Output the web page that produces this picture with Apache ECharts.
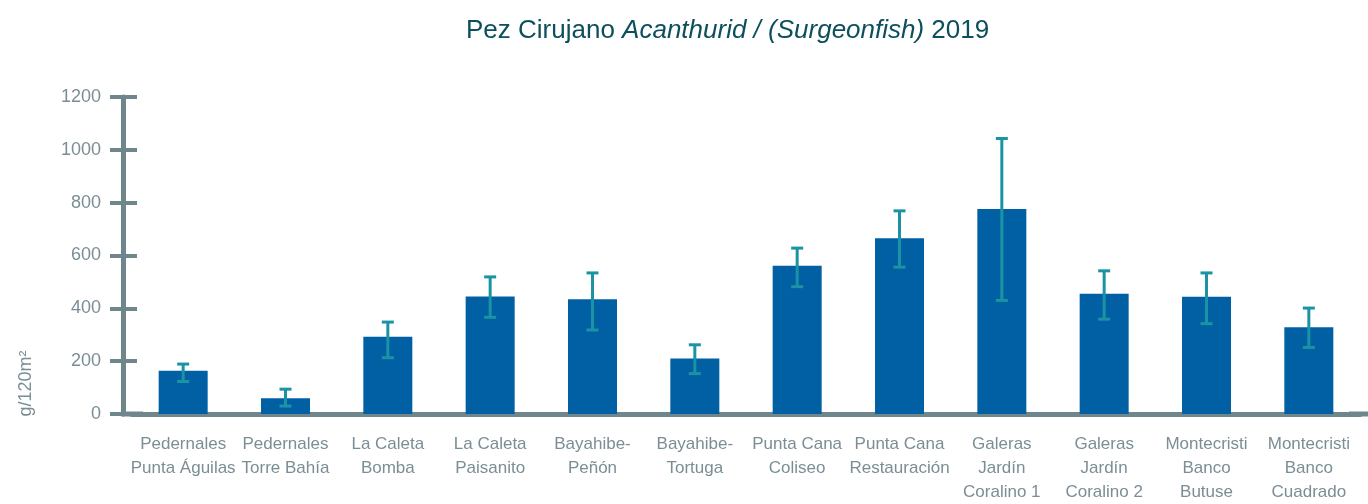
<!DOCTYPE html>
<html>
<head>
<meta charset="utf-8">
<script src="https://cdn.jsdelivr.net/npm/echarts@6/dist/echarts.min.js"></script>
<style>
  html, body { margin: 0; padding: 0; background: #fff; }
  #main { width: 1368px; height: 504px; }
</style>
</head>
<body>
<div id="main"></div>
<script>
// datos
var sitios = [
  'Pedernales\nPunta Águilas', 'Pedernales\nTorre Bahía', 'La Caleta\nBomba', 'La Caleta\nPaisanito',
  'Bayahibe-\nPeñón', 'Bayahibe-\nTortuga', 'Punta Cana\nColiseo', 'Punta Cana\nRestauración',
  'Galeras\nJardín\nCoralino 1', 'Galeras\nJardín\nCoralino 2', 'Montecristi\nBanco\nButuse', 'Montecristi\nBanco\nCuadrado'
];
var biomasa = [164, 60, 292, 445, 434, 210, 561, 665, 776, 455, 444, 328];
var errorBajo = [123, 30, 213, 366, 318, 153, 482, 556, 430, 359, 342, 252];
var errorAlto = [189, 94, 348, 519, 534, 262, 628, 769, 1043, 542, 534, 401];
var ticksY = [0, 200, 400, 600, 800, 1000, 1200];

var gris = '#6e868c';
var fuente = '"Liberation Sans", Arial, sans-serif';

var myChart = echarts.init(document.getElementById('main'));

var option = {
  title: {
    text: '{n|Pez Cirujano }{i|Acanthurid / (Surgeonfish)}{n| 2019}',
    left: 461,
    top: 13,
    textStyle: {
      rich: {
        n: { fontFamily: fuente, fontSize: 26, fontWeight: 'normal', color: '#0d4f5c' },
        i: { fontFamily: fuente, fontSize: 26, fontWeight: 'normal', color: '#0d4f5c', fontStyle: 'italic' }
      }
    }
  },
  grid: { left: 132, right: 8, top: 97, bottom: 87 },
  xAxis: {
    type: 'category',
    data: sitios,
    axisLine: {
      lineStyle: { color: gris, width: 5 },
      symbol: ['rect', 'rect'],
      symbolSize: [5, 22]
    },
    axisTick: { show: false },
    axisLabel: {
      interval: 0,
      margin: 18,
      color: '#7b8e95',
      fontFamily: fuente,
      fontSize: 17,
      lineHeight: 24
    }
  },
  yAxis: [{
    type: 'value',
    min: ticksY[0],
    max: ticksY[ticksY.length - 1],
    interval: 200,
    offset: 9,
    name: 'g/120m²',
    nameLocation: 'middle',
    nameGap: 88,
    nameRotate: 90,
    nameTextStyle: { color: '#7b8e95', fontFamily: fuente, fontSize: 18, padding: [0, 256, 0, 0] },
    axisLine: { show: true, lineStyle: { color: gris, width: 5 } },
    axisTick: { show: true, length: 13, lineStyle: { color: gris, width: 4 } },
    axisLabel: {
      margin: 22, color: '#7b8e95', fontFamily: fuente, fontSize: 18,
      formatter: function (v) { return String(v); }
    },
    splitLine: { show: false }
  }, {
    type: 'value',
    position: 'left',
    min: ticksY[0],
    max: ticksY[ticksY.length - 1],
    interval: 200,
    offset: 9,
    axisLine: { show: false },
    axisTick: { show: true, inside: true, length: 14, lineStyle: { color: gris, width: 4 } },
    axisLabel: { show: false },
    splitLine: { show: false }
  }],
  series: [{
    name: 'Biomasa',
    type: 'bar',
    data: biomasa,
    barWidth: 49,
    itemStyle: { color: '#0060a3' }
  }, {
    name: 'Error',
    type: 'custom',
    data: sitios.map(function (s, i) { return [i, errorBajo[i], errorAlto[i]]; }),
    encode: { x: 0, y: [1, 2] },
    z: 5,
    renderItem: function (params, api) {
      var bajo = api.coord([api.value(0), api.value(1)]);
      var alto = api.coord([api.value(0), api.value(2)]);
      var w = 6;
      var estilo = { stroke: '#1a94a4', lineWidth: 3 };
      return {
        type: 'group',
        children: [
          { type: 'line', shape: { x1: alto[0], y1: alto[1], x2: bajo[0], y2: bajo[1] }, style: estilo },
          { type: 'line', shape: { x1: alto[0] - w, y1: alto[1], x2: alto[0] + w, y2: alto[1] }, style: estilo },
          { type: 'line', shape: { x1: bajo[0] - w, y1: bajo[1], x2: bajo[0] + w, y2: bajo[1] }, style: estilo }
        ]
      };
    }
  }]
};

myChart.setOption(option);
</script>
</body>
</html>
